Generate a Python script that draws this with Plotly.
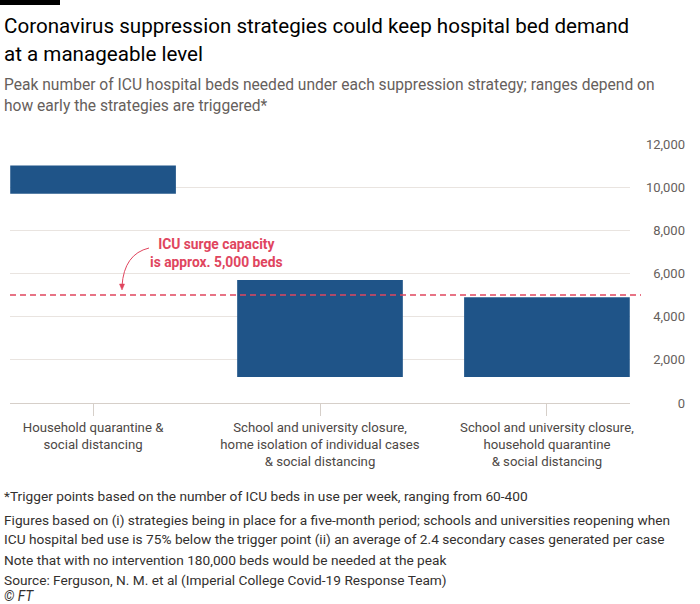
import plotly.graph_objects as go

# data
strategies = [
    "Household quarantine &<br>social distancing",
    "School and university closure,<br>home isolation of individual cases<br>& social distancing",
    "School and university closure,<br>household quarantine<br>& social distancing",
]
beds_low = [9700, 1200, 1200]
beds_high = [11000, 5700, 4900]
surge_capacity = 5000
y_ticks = [0, 2000, 4000, 6000, 8000, 10000, 12000]

title_lines = ["Coronavirus suppression strategies could keep hospital bed demand",
               "at a manageable level"]
subtitle_lines = ["Peak number of ICU hospital beds needed under each suppression strategy; ranges depend on",
                  "how early the strategies are triggered*"]
notes = [
    "*Trigger points based on the number of ICU beds in use per week, ranging from 60-400",
    "Figures based on (i) strategies being in place for a five-month period; schools and universities reopening when",
    "ICU hospital bed use is 75% below the trigger point (ii) an average of 2.4 secondary cases generated per case",
    "Note that with no intervention 180,000 beds would be needed at the peak",
    "Source: Ferguson, N. M. et al (Imperial College Covid-19 Response Team)",
    "<i>© FT</i>",
]

W, H = 700, 604
ML, MR, MT, MB = 10, 15, 144, 201
PW, PH = W - ML - MR, H - MT - MB


def px(x):
    return (x - ML) / PW


def py(y):
    return (H - MB - y) / PH


FONT = "Roboto"
BLUE = "#1f5488"
RED = "#e0455e"
GREY = "#66605c"

fig = go.Figure()
fig.add_trace(go.Bar(
    x=strategies,
    y=[h - l for h, l in zip(beds_high, beds_low)],
    base=beds_low,
    width=0.73,
    marker=dict(color=BLUE, line=dict(width=0)),
    hoverinfo="skip",
))

fig.add_shape(type="line", xref="paper", yref="y", x0=0, x1=px(641),
              y0=surge_capacity, y1=surge_capacity,
              line=dict(color=RED, width=1.5, dash="6px,4px"))

# curved pointer
fig.add_shape(type="path", xref="paper", yref="paper",
              path=f"M {px(149)},{py(248)} Q {px(124)},{py(254)} {px(122)},{py(286)}",
              line=dict(color=RED, width=1))
fig.add_shape(type="path", xref="paper", yref="paper",
              path=f"M {px(119.5)},{py(284)} L {px(124.5)},{py(284)} L {px(122)},{py(290)} Z",
              fillcolor=RED, line=dict(color=RED, width=0.5))

# black strip top-left
fig.add_shape(type="rect", xref="paper", yref="paper", layer="above",
              x0=px(0), x1=px(60), y0=py(0), y1=py(5),
              fillcolor="#000000", line=dict(width=0))

ann = []
ann.append(dict(text="<b>ICU surge capacity<br>is approx. 5,000 beds</b>", x=px(217), y=py(253),
                font=dict(family=FONT, size=13.8, color=RED), align="center",
                xanchor="center", yanchor="middle"))
for i, t in enumerate(title_lines):
    ann.append(dict(text=t, x=px(2), y=py(26 + 28 * i), xanchor="left", yanchor="middle",
                    font=dict(family=FONT, size=20.6, color="#000000")))
for i, t in enumerate(subtitle_lines):
    ann.append(dict(text=t, x=px(2), y=py(85 + 21 * i), xanchor="left", yanchor="middle",
                    font=dict(family=FONT, size=15.6, color=GREY)))
note_y = [496, 520, 539, 560, 580, 596]
for t, yy in zip(notes, note_y):
    ann.append(dict(text=t, x=px(2), y=py(yy), xanchor="left", yanchor="middle",
                    font=dict(family=FONT, size=13.7, color="#33302e")))
for a in ann:
    a.update(xref="paper", yref="paper", showarrow=False)

fig.update_layout(
    width=W, height=H,
    margin=dict(l=ML, r=MR, t=MT, b=MB),
    paper_bgcolor="white", plot_bgcolor="white",
    showlegend=False,
    font=dict(family=FONT, color=GREY),
    annotations=ann,
    xaxis=dict(domain=[0, px(630)], range=[-0.366, 2.366], showgrid=False,
               showline=True, linecolor="#d6cfc9", linewidth=1,
               ticks="outside", ticklen=12, tickcolor="#d6cfc9",
               tickfont=dict(family=FONT, size=13.2, color="#4d4845"), fixedrange=True),
    yaxis=dict(range=[0, 12000], tickvals=y_ticks, tickformat=",", anchor="free",
               position=1.0, side="left", showgrid=True, gridcolor="#e9e4e0",
               zeroline=False, showline=False, ticks="",
               tickfont=dict(family=FONT, size=13, color=GREY), fixedrange=True),
)

page_fix = ("document.body.style.margin='0';"
            "document.body.style.overflow='hidden';"
            "document.documentElement.style.overflow='hidden';"
            "var s=document.createElement('div');"
            "s.style.cssText='position:fixed;left:0;top:0;width:60px;height:5px;background:#000;z-index:99';"
            "document.body.appendChild(s);"
            "window.scrollTo(0,0);")
fig.write_html("out.html", config={"displayModeBar": False}, post_script=page_fix)
